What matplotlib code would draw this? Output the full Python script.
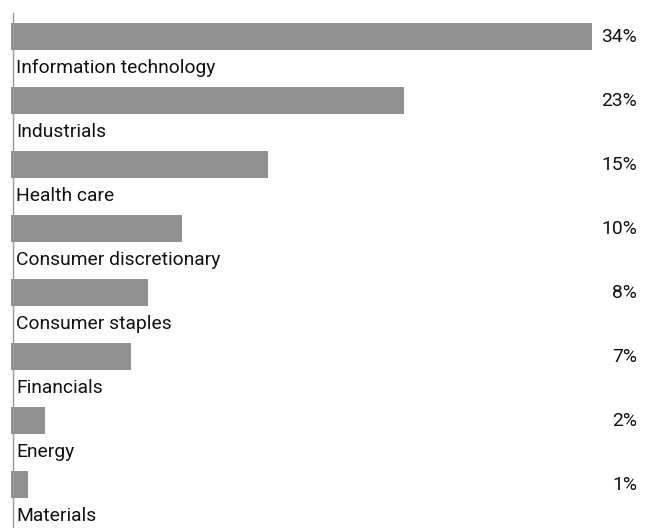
import matplotlib.pyplot as plt

sectors = ["Information technology", "Industrials", "Health care",
           "Consumer discretionary", "Consumer staples", "Financials",
           "Energy", "Materials"]
weights = [34, 23, 15, 10, 8, 7, 2, 1]
labels = ["34%", "23%", "15%", "10%", "8%", "7%", "2%", "1%"]

plt.rcParams["font.family"] = ["Roboto", "DejaVu Sans"]

fig = plt.figure(figsize=(6.5, 5.28), dpi=100)
ax = fig.add_axes([0, 0, 1, 1])

px = 17.1  # pixels per percent
ax.set_xlim(-11 / px, (650 - 11) / px)
ax.set_ylim((528 - 36.5) / 64, -36.5 / 64)

pos = list(range(len(sectors)))
ax.barh(pos, weights, height=27 / 64, color="#919191", linewidth=0)

for i, (name, lab) in enumerate(zip(sectors, labels)):
    ax.text(5 / px, i + 0.49, name, va="center", ha="left", fontsize=13.9, color="#111111")
    ax.text(626 / px, i, lab, va="center", ha="right", fontsize=13.9, color="#111111")

# thin baseline on the left
ax.plot([1.5 / px, 1.5 / px], [(13 - 36.5) / 64, (528 - 36.5) / 64], color="#999999", lw=1)

ax.axis("off")
fig.savefig("out.png", dpi=100)
